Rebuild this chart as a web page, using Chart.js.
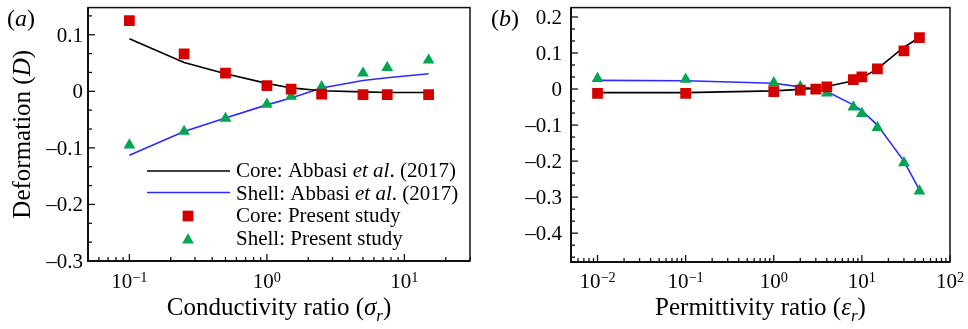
<!DOCTYPE html>
<html>
<head>
<meta charset="utf-8">
<script src="https://cdn.jsdelivr.net/npm/chart.js@4.4.1/dist/chart.umd.min.js"></script>
<style>
  body { margin: 0; background: #fff; }
  canvas { position: absolute; top: 0; }
</style>
</head>
<body>
<canvas id="chartA" width="484" height="329" style="left:0"></canvas>
<canvas id="chartB" width="484" height="329" style="left:484px"></canvas>
<script>
// (a) deformation vs conductivity ratio
const sigmaRatio = [0.1, 0.25, 0.5, 1, 1.5, 2.5, 5, 7.5, 15];
const coreRefA = [0.093, 0.051, 0.031, 0.014, 0.006, 0.001, -0.001, -0.002, -0.002];
const shellRefA = [-0.113, -0.071, -0.047, -0.024, -0.012, 0.006, 0.019, 0.024, 0.031];
const corePresentA = [0.125, 0.066, 0.032, 0.010, 0.004, -0.005, -0.006, -0.006, -0.006];
const shellPresentA = [-0.095, -0.071, -0.048, -0.023, -0.009, 0.008, 0.032, 0.042, 0.055];

// (b) deformation vs permittivity ratio
const epsRatio = [0.01, 0.1, 1, 2, 3, 4, 8, 10, 15, 30, 45];
const coreRefB = [-0.010, -0.010, -0.005, -0.001, 0.002, 0.007, 0.023, 0.031, 0.056, 0.116, 0.143];
const shellRefB = [0.024, 0.023, 0.016, 0.006, 0.001, -0.007, -0.044, -0.060, -0.100, -0.200, -0.280];
const corePresentB = [-0.012, -0.012, -0.007, -0.003, 0.000, 0.006, 0.026, 0.034, 0.056, 0.106, 0.143];
const shellPresentB = [0.029, 0.027, 0.017, 0.006, -0.003, -0.011, -0.050, -0.068, -0.107, -0.205, -0.283];

// tick labels
const yTicksA = [-0.3, -0.2, -0.1, 0, 0.1];
const yTicksB = [-0.4, -0.3, -0.2, -0.1, 0, 0.1, 0.2];
const xDecadesA = [-1, 0, 1];
const xDecadesB = [-2, -1, 0, 1, 2];

const legendLabels = [
  [{ t: 'Core: Abbasi ' }, { t: 'et al', i: true }, { t: '. (2017)' }],
  [{ t: 'Shell: Abbasi ' }, { t: 'et al', i: true }, { t: '. (2017)' }],
  [{ t: 'Core: Present study' }],
  [{ t: 'Shell: Present study' }]
];

const RED = '#d40000';
const GREEN = '#00a651';
const BLUE = '#2b2bff';
const SERIF = '"Liberation Serif", "Times New Roman", serif';
const SQUARE_R = 7.6;   // chart.js rect side = r * sqrt(2)
const TRI_R = 6.8;

function pts(xs, ys) {
  return xs.map((x, k) => ({ x: x, y: ys[k] }));
}

function font(size, italic) {
  return (italic ? 'italic ' : '') + size + 'px ' + SERIF;
}

// text runs with italic / subscript / superscript parts
function richWidth(ctx, parts, size) {
  let w = 0;
  parts.forEach(p => {
    const s = (p.sub || p.sup) ? size * 0.68 : size;
    ctx.font = font(s, p.i);
    w += ctx.measureText(p.t).width;
  });
  return w;
}

function drawRich(ctx, parts, x, y, size, align) {
  const w = richWidth(ctx, parts, size);
  let cx = align === 'center' ? x - w / 2 : (align === 'right' ? x - w : x);
  ctx.textAlign = 'left';
  ctx.textBaseline = 'alphabetic';
  parts.forEach(p => {
    const s = (p.sub || p.sup) ? size * 0.68 : size;
    let dy = 0;
    if (p.sub) dy = size * 0.22;
    if (p.sup) dy = -size * 0.3;
    ctx.font = font(s, p.i);
    ctx.fillText(p.t, cx, y + dy);
    cx += ctx.measureText(p.t).width;
  });
}

function tickText(v) {
  if (v === 0) return '0';
  const s = Math.abs(v).toFixed(1);
  return v < 0 ? '\u2013' + s : s;
}

// frame, inward ticks, tick labels, titles and legend
const panelPlugin = {
  id: 'panel',
  afterDraw(chart, args, opts) {
    const ctx = chart.ctx;
    const a = chart.chartArea;
    const xs = chart.scales.x;
    const ys = chart.scales.y;
    ctx.save();
    ctx.fillStyle = '#000';
    ctx.strokeStyle = '#111';

    // frame
    ctx.lineWidth = 1.5;
    ctx.strokeRect(a.left, a.top, a.right - a.left, a.bottom - a.top);
    ctx.lineWidth = 2;
    ctx.beginPath();
    ctx.moveTo(a.left, a.top);
    ctx.lineTo(a.left, a.bottom);
    ctx.lineTo(a.right, a.bottom);
    ctx.stroke();

    // y ticks: majors every 0.1, two minors between
    ctx.lineWidth = 1.3;
    const step = 0.1;
    const first = Math.ceil((ys.min - 1e-9) / (step / 3));
    const last = Math.floor((ys.max + 1e-9) / (step / 3));
    for (let k = first; k <= last; k++) {
      const v = k * step / 3;
      const py = ys.getPixelForValue(v);
      const len = (k % 3 === 0) ? 7 : 4;
      ctx.beginPath();
      ctx.moveTo(a.left, py);
      ctx.lineTo(a.left + len, py);
      ctx.stroke();
    }
    opts.yTicks.forEach(v => {
      const py = ys.getPixelForValue(v);
      drawRich(ctx, [{ t: tickText(v) }], opts.yLabelX, py + 7, 21, 'right');
    });

    // x ticks: decades and 2..9 minors
    const d0 = Math.floor(Math.log10(xs.min));
    const d1 = Math.ceil(Math.log10(xs.max));
    for (let d = d0; d <= d1; d++) {
      for (let m = 1; m <= 9; m++) {
        const v = m * Math.pow(10, d);
        if (v < xs.min * 0.999 || v > xs.max * 1.001) continue;
        const px = xs.getPixelForValue(v);
        const len = m === 1 ? 7 : 4;
        ctx.beginPath();
        ctx.moveTo(px, a.bottom);
        ctx.lineTo(px, a.bottom - len);
        ctx.stroke();
      }
    }
    opts.xDecades.forEach(d => {
      const px = xs.getPixelForValue(Math.pow(10, d));
      const sup = d < 0 ? '\u2212' + Math.abs(d) : String(d);
      drawRich(ctx, [{ t: '10' }, { t: sup, sup: true }], px, 288, 21, 'center');
    });

    // axis titles
    drawRich(ctx, opts.xTitle, (a.left + a.right) / 2, 315, 25, 'center');
    if (opts.yTitle) {
      ctx.save();
      ctx.translate(30, (a.top + a.bottom) / 2);
      ctx.rotate(-Math.PI / 2);
      drawRich(ctx, opts.yTitle, 0, 0, 25, 'center');
      ctx.restore();
    }

    // panel letter
    drawRich(ctx, [{ t: '(' }, { t: opts.letter, i: true }, { t: ')' }], 7, 26, 24, 'left');

    // legend
    if (opts.legend) {
      const rows = [177, 199.5, 222, 245];
      const lx0 = 147, lx1 = 230, mx = 188, tx = 236;
      ctx.lineWidth = 1.6;
      ctx.strokeStyle = '#000';
      ctx.beginPath(); ctx.moveTo(lx0, 171); ctx.lineTo(lx1, 171); ctx.stroke();
      ctx.strokeStyle = BLUE;
      ctx.beginPath(); ctx.moveTo(lx0, 192.5); ctx.lineTo(lx1, 192.5); ctx.stroke();
      ctx.fillStyle = RED;
      const h = SQUARE_R * Math.SQRT1_2;
      ctx.fillRect(mx - h, 216 - h, 2 * h, 2 * h);
      ctx.fillStyle = GREEN;
      const cy = 240;
      ctx.beginPath();
      ctx.moveTo(mx, cy - TRI_R);
      ctx.lineTo(mx + TRI_R * 0.866, cy + TRI_R / 2);
      ctx.lineTo(mx - TRI_R * 0.866, cy + TRI_R / 2);
      ctx.closePath();
      ctx.fill();
      ctx.fillStyle = '#000';
      legendLabels.forEach((parts, k) => drawRich(ctx, parts, tx, rows[k], 21, 'left'));
    }
    ctx.restore();
  }
};

function makeChart(id, xv, series, xr, yr, pad, panelOpts) {
  return new Chart(document.getElementById(id), {
    type: 'scatter',
    data: {
      datasets: [
        { data: pts(xv, series[2]), pointStyle: 'rect', pointRadius: SQUARE_R, backgroundColor: RED, borderWidth: 0, order: 0 },
        { data: pts(xv, series[3]), pointStyle: 'triangle', pointRadius: TRI_R, backgroundColor: GREEN, borderWidth: 0, order: 0 },
        { data: pts(xv, series[0]), showLine: true, borderColor: '#000', borderWidth: 1.6, pointRadius: 0, tension: 0, order: 1 },
        { data: pts(xv, series[1]), showLine: true, borderColor: BLUE, borderWidth: 1.6, pointRadius: 0, tension: 0, order: 1 }
      ]
    },
    options: {
      responsive: false,
      animation: false,
      layout: { padding: pad },
      scales: {
        x: { type: 'logarithmic', min: xr[0], max: xr[1], display: false },
        y: { type: 'linear', min: yr[0], max: yr[1], display: false }
      },
      plugins: {
        legend: { display: false },
        tooltip: { enabled: false },
        panel: panelOpts
      }
    },
    plugins: [panelPlugin]
  });
}

makeChart('chartA', sigmaRatio, [coreRefA, shellRefA, corePresentA, shellPresentA],
  [0.05, 30], [-0.3, 0.148], { left: 88, right: 14, top: 7, bottom: 68 },
  {
    letter: 'a', yTicks: yTicksA, xDecades: xDecadesA, yLabelX: 83, legend: true,
    xTitle: [{ t: 'Conductivity ratio (' }, { t: '\u03c3', i: true }, { t: 'r', i: true, sub: true }, { t: ')' }],
    yTitle: [{ t: 'Deformation (' }, { t: 'D', i: true }, { t: ')' }]
  });

makeChart('chartB', epsRatio, [coreRefB, shellRefB, corePresentB, shellPresentB],
  [0.005, 100], [-0.48, 0.226], { left: 87, right: 18, top: 7, bottom: 67 },
  {
    letter: 'b', yTicks: yTicksB, xDecades: xDecadesB, yLabelX: 78, legend: false,
    xTitle: [{ t: 'Permittivity ratio (' }, { t: '\u03b5', i: true }, { t: 'r', i: true, sub: true }, { t: ')' }]
  });
</script>
</body>
</html>
